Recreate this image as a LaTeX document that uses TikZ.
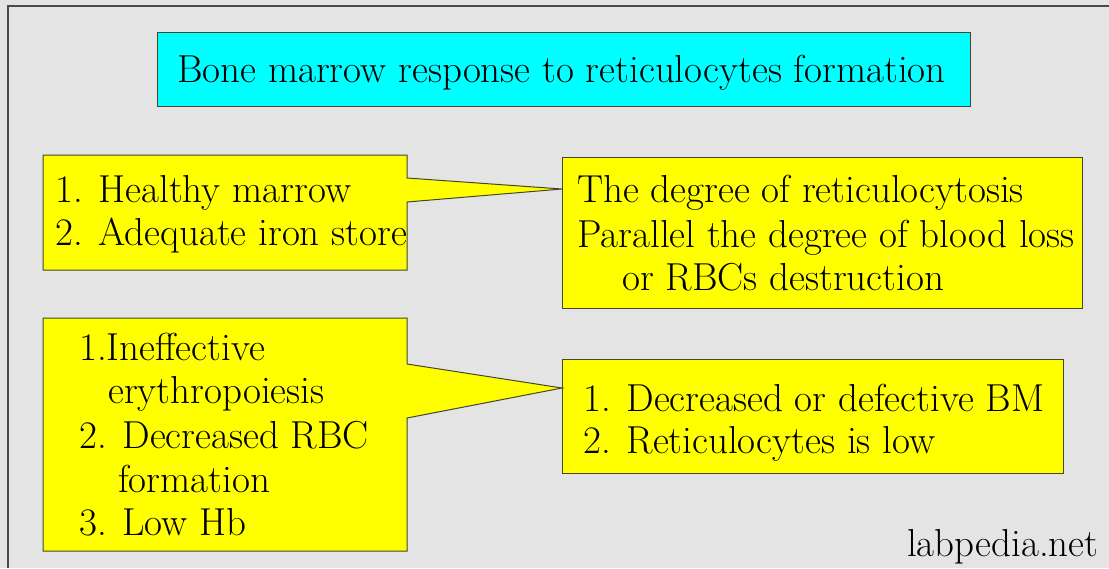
\documentclass[tikz,border=0pt]{standalone}

\definecolor{slidegray}{HTML}{E4E4E4}
\definecolor{framegray}{HTML}{4A4A4A}
\definecolor{boxline}{HTML}{45452A}
\definecolor{notecyan}{HTML}{00FFFF}
\definecolor{noteyellow}{HTML}{FFFF00}

\begin{document}
\begin{tikzpicture}[x=1pt, y=-1pt,
        every node/.style={inner sep=0pt},
        txt/.style={anchor=base west, font=\fontsize{39}{44}\selectfont},
        notebox/.style={fill=noteyellow, draw=boxline, line width=1pt, line join=miter}]
        % Draw the slide background
        \fill[slidegray] (0,0) rectangle (1109,568);
        \useasboundingbox (0,0) rectangle (1109,568);
        \draw[framegray, line width=1.5pt] (8,568) -- (8,6) -- (1109,6);

        % Draw the title box
        \filldraw[fill=notecyan, draw=boxline, line width=1pt] (157,32) rectangle (970,106);
        \node[txt] (title) at (177,82) {Bone marrow response to reticulocytes formation};

        % Draw the right boxes
        \filldraw[notebox] (562,157) rectangle (1082,308);
        \node[txt] (degree) at (577,202) {The degree of reticulocytosis};
        \node[txt] (parallel) at (577,247) {Parallel the degree of blood loss};
        \node[txt] (destr) at (622,290) {or RBCs destruction};

        \filldraw[notebox] (562,359) rectangle (1063,473);
        \node[txt] (defbm) at (583,411) {1. Decreased or defective BM};
        \node[txt] (retlow) at (583,453) {2. Reticulocytes is low};

        % Draw the callout boxes on the left
        \coordinate (tipA) at (562,189);
        \coordinate (tipC) at (562,388);
        \filldraw[notebox] (43,155) -- (407,155) -- (407,178) -- (tipA) -- (407,202)
                -- (407,270) -- (43,270) -- cycle;
        \node[txt] (healthy) at (55,202) {1. Healthy marrow};
        \node[txt] (iron) at (55,245) {2. Adequate iron store};

        \filldraw[notebox] (43,318) -- (407,318) -- (407,364) -- (tipC) -- (407,418)
                -- (407,551) -- (43,551) -- cycle;
        \node[txt] (ineff) at (79,360) {1.Ineffective};
        \node[txt] (erythro) at (108,403) {erythropoiesis};
        \node[txt] (decrbc) at (79,448) {2. Decreased RBC};
        \node[txt] (form) at (118,492) {formation};
        \node[txt] (lowhb) at (79,535) {3. Low Hb};

        % Draw the source mark
        \node[txt] (site) at (907,556) {labpedia.net};
    \end{tikzpicture}
\end{document}
